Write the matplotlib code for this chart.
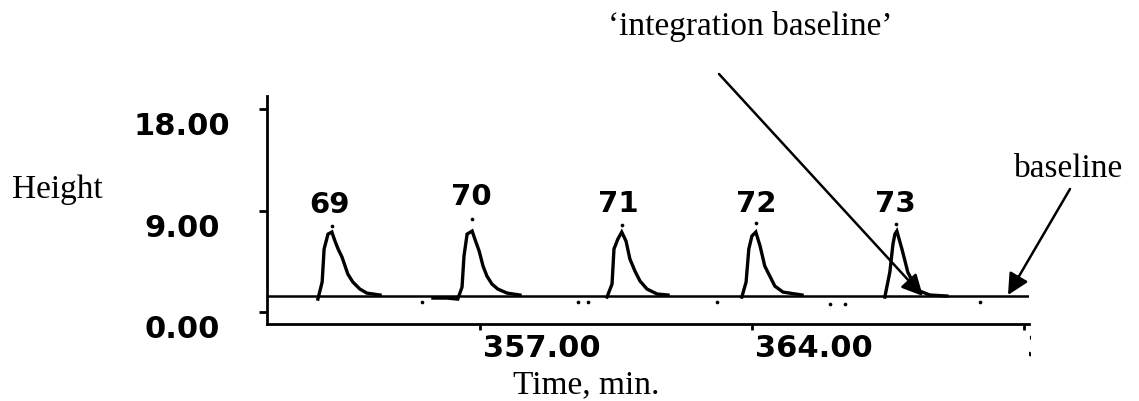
import numpy as np
import matplotlib
matplotlib.use("Agg")
import matplotlib.pyplot as plt
import matplotlib.transforms as mtransforms

# chromatogram trace, one short piece per peak (time in min, height)
t_69 = [352.83, 352.94, 352.99, 353.09, 353.19, 353.27, 353.35, 353.45, 353.53, 353.60, 353.73, 353.91, 354.09, 354.43]
h_69 = [1.15, 2.66, 5.59, 6.91, 7.09, 6.29, 5.59, 4.88, 4.08, 3.37, 2.66, 2.04, 1.68, 1.51]
t_70 = [355.79, 356.15, 356.43, 356.54, 356.59, 356.67, 356.80, 356.87, 356.98, 357.08, 357.18, 357.31, 357.46, 357.70, 358.03]
h_70 = [1.24, 1.24, 1.15, 2.22, 4.96, 6.91, 7.18, 6.47, 5.41, 4.08, 3.19, 2.48, 2.04, 1.68, 1.51]
t_71 = [360.27, 360.40, 360.45, 360.55, 360.65, 360.76, 360.86, 360.99, 361.12, 361.30, 361.56, 361.84]
h_71 = [1.33, 2.48, 5.59, 6.47, 7.09, 6.29, 4.70, 3.63, 2.75, 2.04, 1.60, 1.51]
t_72 = [363.74, 363.85, 363.92, 364.00, 364.10, 364.21, 364.33, 364.46, 364.59, 364.80, 365.29]
h_72 = [1.33, 2.66, 5.59, 6.74, 7.09, 5.85, 4.08, 3.19, 2.30, 1.77, 1.51]
t_73 = [367.42, 367.55, 367.63, 367.68, 367.73, 367.86, 367.94, 368.01, 368.14, 368.32, 368.58, 369.02]
h_73 = [1.33, 3.55, 6.03, 6.91, 7.18, 5.59, 4.52, 3.55, 2.66, 1.86, 1.51, 1.42]

peak_names = ['69', '70', '71', '72', '73']
apex_t = [353.19, 356.80, 360.65, 364.10, 367.71]
apex_dot_h = [7.62, 8.24, 7.71, 7.89, 7.80]
label_t = [353.14, 356.77, 360.55, 364.10, 367.68]
label_h = [8.87, 9.57, 8.95, 8.95, 8.95]

noise_t = [355.51, 359.52, 359.78, 363.10, 366.01, 366.39, 369.87]
noise_h = [0.89, 0.89, 0.89, 0.89, 0.71, 0.71, 0.89]

baseline_t = [351.52, 371.13]
baseline_h = [1.42, 1.42]

yticks = [0, 9, 18]
ytick_labels = ['0.00', '9.00', '18.00']
xticks = [357, 364, 371]
xtick_labels = ['357.00', '364.00', '371.00']

fig = plt.figure(figsize=(11.39, 4.02), dpi=100)
ax = fig.add_axes([0.2344, 0.1915, 0.669, 0.5672])
ax.set_xlim(351.52, 371.13)
ax.set_ylim(-1.06, 19.15)

for tt, hh in [(t_69, h_69), (t_70, h_70), (t_71, h_71), (t_72, h_72), (t_73, h_73)]:
    ax.plot(tt, hh, color='black', lw=2.4, solid_joinstyle='miter')
ax.plot(baseline_t, baseline_h, color='black', lw=1.8)
ax.scatter(apex_t, apex_dot_h, s=7, color='black', lw=0)
ax.scatter(noise_t, noise_h, s=7, color='black', lw=0)

for name, x, y in zip(peak_names, label_t, label_h):
    ax.text(x, y, name, ha='center', va='baseline', fontsize=21,
            fontweight='bold', family='DejaVu Sans')

# axes frame
for s in ['top', 'right']:
    ax.spines[s].set_visible(False)
for s in ['left', 'bottom']:
    ax.spines[s].set_linewidth(2.0)
ax.set_yticks(yticks)
ax.set_xticks(xticks)
ax.tick_params(axis='y', direction='out', length=6, width=2, labelleft=False)
ax.tick_params(axis='x', direction='out', length=4, width=2, labelbottom=False)

# tick labels, placed like the original software did
off = mtransforms.ScaledTranslation(0, -25 / 100, fig.dpi_scale_trans)
ytrans = mtransforms.blended_transform_factory(fig.transFigure, ax.transData) + off
for v, lab in zip(yticks, ytick_labels):
    ax.text(0.1598, v, lab, transform=ytrans, ha='center', va='baseline',
            fontsize=22, fontweight='bold', family='DejaVu Sans')

xoff = mtransforms.ScaledTranslation(3 / 100, -32 / 100, fig.dpi_scale_trans)
xtrans = mtransforms.blended_transform_factory(ax.transData, ax.transAxes) + xoff
clip = mtransforms.TransformedBbox(mtransforms.Bbox([[0, 0], [1031, 402]]),
                                   mtransforms.IdentityTransform())
for v, lab in zip(xticks, xtick_labels):
    t = ax.text(v, 0, lab, transform=xtrans, ha='left', va='baseline',
                fontsize=22, fontweight='bold', family='DejaVu Sans', clip_on=True)
    t.set_clip_box(clip)

serif = 'Liberation Serif'
fig.text(0.050, 0.5075, 'Height', ha='center', va='baseline', fontsize=24, family=serif)
fig.text(0.5145, 0.0224, 'Time, min.', ha='center', va='baseline', fontsize=24, family=serif)
fig.text(0.6585, 0.913, '\u2018integration baseline\u2019', ha='center', va='baseline',
         fontsize=24, family=serif)
fig.text(0.9385, 0.5597, 'baseline', ha='center', va='baseline', fontsize=24, family=serif)

arrow = dict(arrowstyle='-|>', color='black', lw=1.8, mutation_scale=32,
             shrinkA=0, shrinkB=0)
ax.annotate('', xy=(368.40, 1.42), xytext=(719, 327), textcoords='figure pixels',
            arrowprops=arrow)
ax.annotate('', xy=(370.59, 1.51), xytext=(1070, 212), textcoords='figure pixels',
            arrowprops=arrow)

fig.savefig('out.png', dpi=100)
